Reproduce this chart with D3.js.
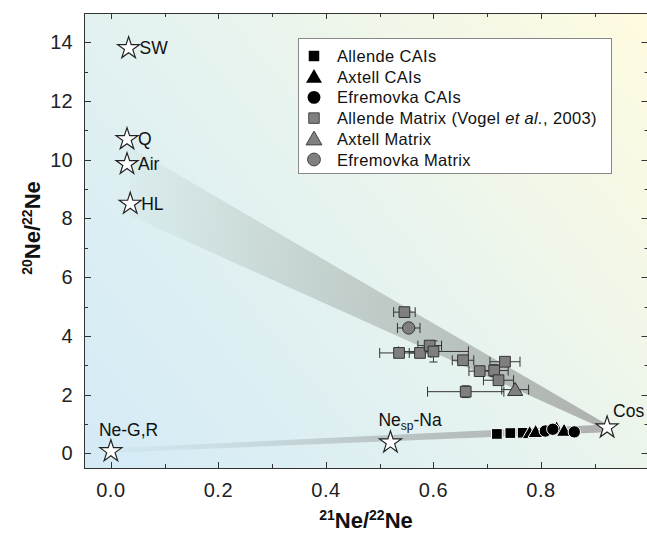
<!DOCTYPE html>
<html><head><meta charset="utf-8">
<script src="https://cdn.jsdelivr.net/npm/d3@7"></script>
<style>
body{margin:0;background:#fff;}
text{font-family:"Liberation Sans",Arial,sans-serif;}
</style></head>
<body><svg id="c" width="647" height="534"></svg>
<script>
// ---- data ----
const xTicks = [0.0, 0.2, 0.4, 0.6, 0.8];
const yTicks = [0, 2, 4, 6, 8, 10, 12, 14];
const components = [
  {name:"SW",  x:0.033, y:13.8, dx:11, dy:6},
  {name:"Q",   x:0.030, y:10.7, dx:11, dy:6},
  {name:"Air", x:0.030, y:9.85, dx:11, dy:6},
  {name:"HL",  x:0.036, y:8.5,  dx:11, dy:6},
  {name:"Ne-G,R", x:0.0, y:0.07, dx:-12, dy:-15},
  {name:"Nesp-Na", x:0.52, y:0.37, dx:-12, dy:-16},
  {name:"Cos", x:0.923, y:0.88, dx:6, dy:-10}
];
const allendeMatrix = [
  {x:0.546, y:4.81, ex:0.020, ey:0},
  {x:0.536, y:3.42, ex:0.036, ey:0},
  {x:0.575, y:3.42, ex:0.020, ey:0},
  {x:0.593, y:3.67, ex:0.022, ey:0},
  {x:0.600, y:3.47, ex:0.065, ey:0.36},
  {x:0.655, y:3.17, ex:0.020, ey:0},
  {x:0.686, y:2.80, ex:0.020, ey:0},
  {x:0.713, y:2.82, ex:0.026, ey:0.2},
  {x:0.733, y:3.12, ex:0.028, ey:0},
  {x:0.721, y:2.49, ex:0.028, ey:0.15},
  {x:0.660, y:2.10, ex:0.071, ey:0.2}
];
const axtellMatrix = [{x:0.752, y:2.17, ex:0.025, ey:0}];
const efremovkaMatrix = [{x:0.554, y:4.27, ex:0.021, ey:0}];
const allendeCAIs = [{x:0.718, y:0.66}, {x:0.743, y:0.69}, {x:0.766, y:0.70}];
const axtellCAIs = [{x:0.779, y:0.70}, {x:0.790, y:0.74}, {x:0.829, y:0.86}, {x:0.843, y:0.78}];
const efremovkaCAIs = [{x:0.808, y:0.76}, {x:0.822, y:0.82}, {x:0.862, y:0.73}];
const legendItems = [
  {label:"Allende CAIs", shape:"square", fill:"#000"},
  {label:"Axtell CAIs", shape:"triangle", fill:"#000"},
  {label:"Efremovka CAIs", shape:"circle", fill:"#000"},
  {label:"Allende Matrix (Vogel et al., 2003)", shape:"square", fill:"#808080"},
  {label:"Axtell Matrix", shape:"triangle", fill:"#808080"},
  {label:"Efremovka Matrix", shape:"circle", fill:"#808080"}
];
// mixing bands (corner points in data units)
const upperBand = [{x:0.035, y:10.45}, {x:0.923, y:0.98}, {x:0.923, y:0.78}, {x:0.035, y:8.1}];
const lowerBand = [{x:0.0, y:0.17}, {x:0.923, y:0.98}, {x:0.923, y:0.72}, {x:0.0, y:0.02}];

// ---- layout ----
const L = 84, T = 13, R = 648.5, B = 468;
const svg = d3.select("#c");
const x = d3.scaleLinear().domain([-0.05, 1.0]).range([L, R]);
const y = d3.scaleLinear().domain([-0.5, 15]).range([B, T]);

const defs = svg.append("defs");
const bg = defs.append("linearGradient").attr("id","bg")
  .attr("gradientUnits","userSpaceOnUse")
  .attr("x1", L).attr("y1", B).attr("x2", R).attr("y2", T);
bg.append("stop").attr("offset","0").attr("stop-color","#d3eaf6");
bg.append("stop").attr("offset","0.5").attr("stop-color","#e6f3ef");
bg.append("stop").attr("offset","1").attr("stop-color","#fffbe0");

const g1 = defs.append("linearGradient").attr("id","band1")
  .attr("gradientUnits","userSpaceOnUse")
  .attr("x1", x(0.035)).attr("y1", 0).attr("x2", x(0.92)).attr("y2", 0);
g1.append("stop").attr("offset","0").attr("stop-color","#8fa69c").attr("stop-opacity",0.05);
g1.append("stop").attr("offset","0.45").attr("stop-color","#98a39e").attr("stop-opacity",0.45);
g1.append("stop").attr("offset","1").attr("stop-color","#a4a6a4").attr("stop-opacity",0.85);

const g2 = defs.append("linearGradient").attr("id","band2")
  .attr("gradientUnits","userSpaceOnUse")
  .attr("x1", x(0)).attr("y1", 0).attr("x2", x(0.92)).attr("y2", 0);
g2.append("stop").attr("offset","0").attr("stop-color","#a9c3cc").attr("stop-opacity",0.1);
g2.append("stop").attr("offset","0.55").attr("stop-color","#a0a8a8").attr("stop-opacity",0.6);
g2.append("stop").attr("offset","1").attr("stop-color","#a8a8a8").attr("stop-opacity",0.9);

svg.append("rect").attr("x", L).attr("y", T).attr("width", R - L).attr("height", B - T)
  .attr("fill","url(#bg)");

const poly = pts => pts.map(p => [x(p.x), y(p.y)].join(",")).join(" ");
svg.append("polygon").attr("points", poly(upperBand)).attr("fill","url(#band1)");
svg.append("polygon").attr("points", poly(lowerBand)).attr("fill","url(#band2)");

// ---- axes ----
const axisCol = "#333";
const frame = svg.append("g").attr("stroke", axisCol).attr("stroke-width",1).attr("fill","none");
frame.append("rect").attr("x", L + 0.5).attr("y", T + 0.5).attr("width", R - L).attr("height", B - T);

const xMinor = d3.range(0, 10).map(i => i / 10);
const yMinor = d3.range(0, 15);
xMinor.forEach(v => {
  const len = (Math.round(v * 10) % 2 === 0) ? 6 : 4;
  const px = Math.round(x(v)) + 0.5;
  frame.append("line").attr("x1", px).attr("x2", px).attr("y1", B).attr("y2", B - len);
  frame.append("line").attr("x1", px).attr("x2", px).attr("y1", T).attr("y2", T + len);
});
yMinor.forEach(v => {
  const len = (v % 2 === 0) ? 7 : 4;
  const py = Math.round(y(v)) + 0.5;
  frame.append("line").attr("y1", py).attr("y2", py).attr("x1", L).attr("x2", L + len);
  frame.append("line").attr("y1", py).attr("y2", py).attr("x1", R).attr("x2", R - len);
});

svg.append("g").selectAll("text").data(xTicks).join("text")
  .attr("x", d => x(d)).attr("y", B + 29)
  .attr("text-anchor","middle").attr("font-size", 20).attr("letter-spacing", 0.5).attr("fill","#222")
  .text(d => d3.format(".1f")(d));
svg.append("g").selectAll("text").data(yTicks).join("text")
  .attr("x", L - 11).attr("y", d => y(d) + 7)
  .attr("text-anchor","end").attr("font-size", 20).attr("letter-spacing", 0.3).attr("fill","#222")
  .text(d => d);

// axis titles
const xt = svg.append("text").attr("x", 366).attr("y", 528).attr("text-anchor","middle")
  .attr("font-size", 22).attr("font-weight","bold").attr("fill","#111");
xt.append("tspan").attr("font-size",14).attr("dy",-8).text("21");
xt.append("tspan").attr("dy",8).text("Ne/");
xt.append("tspan").attr("font-size",14).attr("dy",-8).text("22");
xt.append("tspan").attr("dy",8).text("Ne");

const yt = svg.append("text").attr("transform","translate(40,228) rotate(-90)").attr("text-anchor","middle")
  .attr("font-size", 22).attr("font-weight","bold").attr("fill","#111");
yt.append("tspan").attr("font-size",14).attr("dy",-8).text("20");
yt.append("tspan").attr("dy",8).text("Ne/");
yt.append("tspan").attr("font-size",14).attr("dy",-8).text("22");
yt.append("tspan").attr("dy",8).text("Ne");

// ---- symbols ----
const sym = {
  square: d3.symbol().type(d3.symbolSquare).size(115),
  triangle: d3.symbol().type(d3.symbolTriangle).size(100),
  circle: d3.symbol().type(d3.symbolCircle).size(120)
};

function errorBars(data) {
  const g = svg.append("g").attr("stroke","#333").attr("stroke-width",1).attr("fill","none");
  data.forEach(d => {
    if (d.ex) {
      g.append("line").attr("x1", x(d.x - d.ex)).attr("x2", x(d.x + d.ex)).attr("y1", y(d.y)).attr("y2", y(d.y));
      [d.x - d.ex, d.x + d.ex].forEach(v => g.append("line").attr("x1", x(v)).attr("x2", x(v)).attr("y1", y(d.y) - 5).attr("y2", y(d.y) + 5));
    }
    if (d.ey) {
      g.append("line").attr("x1", x(d.x)).attr("x2", x(d.x)).attr("y1", y(d.y - d.ey)).attr("y2", y(d.y + d.ey));
      [d.y - d.ey, d.y + d.ey].forEach(v => g.append("line").attr("x1", x(d.x) - 4).attr("x2", x(d.x) + 4).attr("y1", y(v)).attr("y2", y(v)));
    }
  });
}
function points(data, shape, fill, stroke, sw) {
  svg.append("g").selectAll("path").data(data).join("path")
    .attr("d", sym[shape])
    .attr("transform", d => `translate(${x(d.x)},${y(d.y) + (shape === "triangle" ? 1.5 : 0)})`)
    .attr("fill", fill).attr("stroke", stroke).attr("stroke-width", sw);
}
errorBars(allendeMatrix); errorBars(axtellMatrix); errorBars(efremovkaMatrix);
points(allendeMatrix, "square", "#7f7f7f", "#333", 1);
points(efremovkaMatrix, "circle", "#7f7f7f", "#333", 1);
points(axtellMatrix, "triangle", "#7f7f7f", "#333", 1);
points(allendeCAIs, "square", "#000", "#fff", 1);
points(axtellCAIs, "triangle", "#000", "#fff", 1);
points(efremovkaCAIs, "circle", "#000", "#fff", 1);

// stars
const star = d3.symbol().type(d3.symbolStar).size(150);
svg.append("g").selectAll("path").data(components).join("path")
  .attr("d", star).attr("transform", d => `translate(${x(d.x)},${y(d.y)})`)
  .attr("fill","#fff").attr("stroke","#222").attr("stroke-width",1.2);
const lab = svg.append("g").selectAll("text").data(components).join("text")
  .attr("x", d => x(d.x) + d.dx).attr("y", d => y(d.y) + d.dy)
  .attr("font-size", 17.5).attr("fill","#111");
lab.each(function(d) {
  const t = d3.select(this);
  if (d.name === "Nesp-Na") {
    t.append("tspan").text("Ne");
    t.append("tspan").attr("font-size", 12).attr("dy", 4).text("sp");
    t.append("tspan").attr("dy", -4).text("-Na");
  } else t.text(d.name);
});

// ---- legend ----
const lg = svg.append("g");
lg.append("rect").attr("x", 298.5).attr("y", 38.5).attr("width", 313).attr("height", 135)
  .attr("fill","#fff").attr("stroke","#888").attr("stroke-width",1);
const lsym = {
  square: d3.symbol().type(d3.symbolSquare).size(110),
  triangle: d3.symbol().type(d3.symbolTriangle).size(110),
  circle: d3.symbol().type(d3.symbolCircle).size(130)
};
legendItems.forEach((d, i) => {
  const cy = 56 + i * 20.7;
  lg.append("path").attr("d", lsym[d.shape]).attr("transform", `translate(314,${cy + (d.shape === "triangle" ? 1.5 : 0)})`)
    .attr("fill", d.fill).attr("stroke", d.fill === "#000" ? "none" : "#444").attr("stroke-width", 1);
  const t = lg.append("text").attr("x", 337).attr("y", cy + 6).attr("font-size", 16.5)
    .attr("letter-spacing", 0.35).attr("fill","#111");
  if (d.label.includes("et al.")) {
    t.append("tspan").text("Allende Matrix (Vogel ");
    t.append("tspan").attr("font-style","italic").text("et al.");
    t.append("tspan").text(", 2003)");
  } else t.text(d.label);
});
</script></body></html>
